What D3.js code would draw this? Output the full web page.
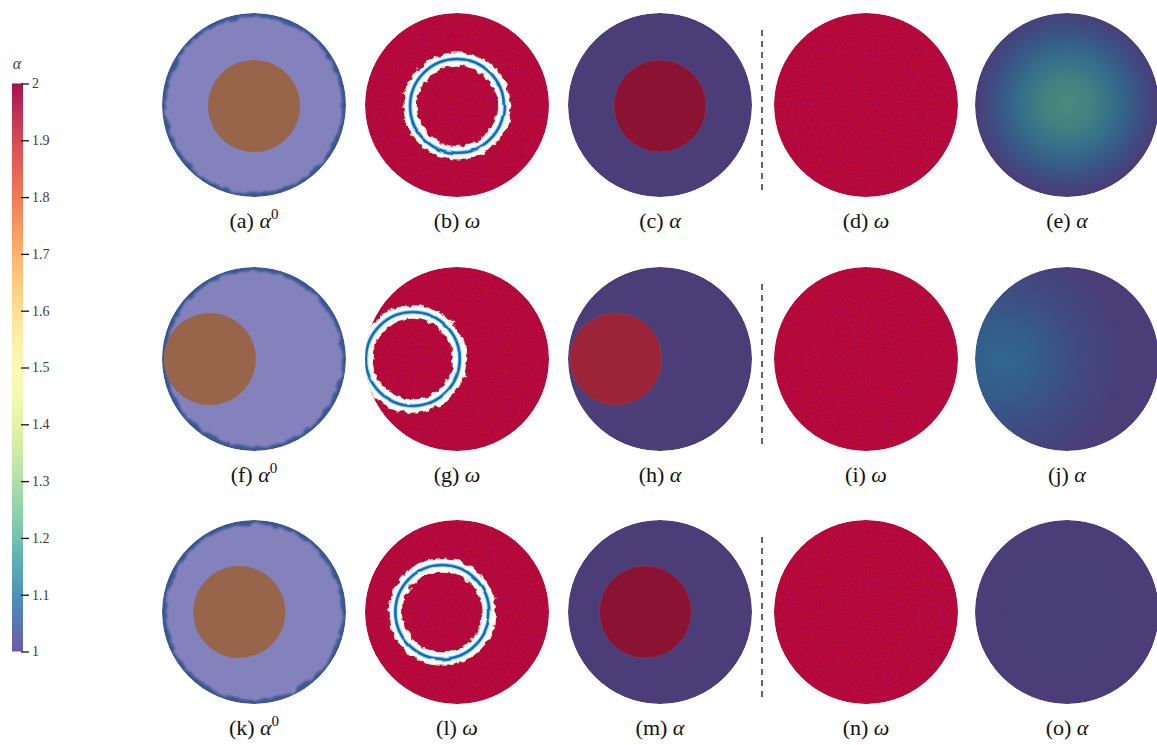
<!DOCTYPE html>
<html>
<head>
<meta charset="utf-8">
<script src="https://cdn.jsdelivr.net/npm/d3@7"></script>
<style>
  html, body { margin: 0; padding: 0; background: #fff; }
  svg { display: block; }
</style>
</head>
<body>
<svg id="fig" width="1157" height="745"></svg>
<script>
// ---------------- data ----------------
// panel letters, one row per test case
const panelLetters = [
  ["a", "b", "c", "d", "e"],
  ["f", "g", "h", "i", "j"],
  ["k", "l", "m", "n", "o"]
];
// field shown in each column
const panelFields = ["alpha0", "omega", "alpha", "omega", "alphaSmooth"];
const fieldSymbols = { alpha0: "α", omega: "ω", alpha: "α", alphaSmooth: "α" };

// inclusion geometry per row, in unit-disk coordinates
const inclusionX = [0.0, -0.48, -0.16];
const inclusionY = [-0.01, 0.0, 0.0];
const inclusionRadius = 0.5;
// radius of the interface ring in the phase field ω
const ringRadius = 0.51;

// α values
const alphaBackground = 1.0;
const alphaInclusion = [2.0, 1.94, 2.0];

// smooth reconstructions (last column): radial α profiles per row
const smoothCenterX = [0.0, -0.7, -0.05];
const smoothCenterY = [0.02, 0.0, 0.0];
const smoothRadius = [1.0, 1.35, 0.7];
const smoothOffsets = [
  [0, 0.25, 0.5, 0.75, 1],
  [0, 0.3, 0.55, 0.8, 1],
  [0, 0.8, 1]
];
const smoothValues = [
  [1.22, 1.19, 1.13, 1.06, 1.0],
  [1.11, 1.075, 1.04, 1.015, 1.0],
  [1.008, 1.006, 1.0]
];

// colour bar ticks
const colorbarTicks = [1, 1.1, 1.2, 1.3, 1.4, 1.5, 1.6, 1.7, 1.8, 1.9, 2];

// ---------------- layout ----------------
const colCenters = [254, 457, 660, 866, 1067];
const rowCenters = [105, 359, 612];
const diskR = 92;
const labelOffset = 123;
const dividerX = 762;

const serif = "'Liberation Serif', 'DejaVu Serif', serif";

// shaded colour map used inside the disks
const diskColor = d3.scaleLinear()
  .domain([1.0, 1.1, 1.2, 1.3, 1.5, 1.7, 1.9, 2.0])
  .range(["#4a3d78", "#2e6590", "#44857e", "#649e80", "#c4c189", "#c9864f", "#a6303e", "#8a1232"])
  .interpolate(d3.interpolateRgb)
  .clamp(true);

const alpha0Colors = { background: "#8482bd", inclusion: "#98644a", rim: "#3a5792" };
const omegaRed = "#bb0b39";

const svg = d3.select("#fig");
const defs = svg.append("defs");

// fine grain on the phase field
const grain = defs.append("filter").attr("id", "grain")
  .attr("x", 0).attr("y", 0).attr("width", 1).attr("height", 1);
grain.append("feTurbulence").attr("type", "fractalNoise")
  .attr("baseFrequency", 0.85).attr("numOctaves", 2).attr("seed", 4).attr("result", "n");
grain.append("feColorMatrix").attr("in", "n").attr("type", "matrix")
  .attr("values", "0 0 0 0 0.3  0 0 0 0 0  0 0 0 0 0.08  2.4 0 0 0 -1.05")
  .attr("result", "m");
grain.append("feComposite").attr("in", "m").attr("in2", "SourceGraphic").attr("operator", "in");

// irregular edges
function roughFilter(id, freq, scale, seed, blur) {
  const f = defs.append("filter").attr("id", id)
    .attr("x", "-15%").attr("y", "-15%").attr("width", "130%").attr("height", "130%");
  f.append("feTurbulence").attr("type", "fractalNoise")
    .attr("baseFrequency", freq).attr("numOctaves", 2).attr("seed", seed).attr("result", "t");
  f.append("feDisplacementMap").attr("in", "SourceGraphic").attr("in2", "t")
    .attr("scale", scale).attr("xChannelSelector", "R").attr("yChannelSelector", "G")
    .attr("result", "d");
  if (blur) f.append("feGaussianBlur").attr("in", "d").attr("stdDeviation", blur);
}
roughFilter("rim", 0.1, 7, 11, 0.9);
roughFilter("jag", 0.16, 7, 5, 0.35);
roughFilter("wobble", 0.05, 2.5, 9, 0.25);

// ---------------- colour bar ----------------
const cbTop = 83.5, cbBottom = 651.5, cbX = 12, cbW = 11;
const cbScale = d3.scaleLinear().domain([1, 2]).range([cbBottom, cbTop]);
const cbGrad = defs.append("linearGradient").attr("id", "cbgrad")
  .attr("x1", 0).attr("y1", 0).attr("x2", 0).attr("y2", 1);
d3.range(0, 1.0001, 0.05).forEach(t => {
  cbGrad.append("stop").attr("offset", t).attr("stop-color", d3.interpolateSpectral(t));
});
svg.append("rect").attr("x", cbX).attr("y", cbScale(2)).attr("width", cbW)
  .attr("height", cbScale(1) - cbScale(2)).attr("fill", "url(#cbgrad)").attr("opacity", 0.93);
const cbAxis = svg.append("g").attr("transform", `translate(${cbX + cbW - 2},0)`)
  .call(d3.axisRight(cbScale).tickValues(colorbarTicks).tickSize(8).tickPadding(3)
    .tickFormat(d => String(d)));
cbAxis.select(".domain").remove();
cbAxis.selectAll(".tick line").attr("stroke", "#111").attr("stroke-width", 1.3);
cbAxis.selectAll(".tick text").attr("fill", "#3a3a3a")
  .style("font-family", serif).style("font-size", "14px");
svg.append("text").attr("x", 17).attr("y", 69).attr("text-anchor", "middle")
  .style("font-family", serif).style("font-style", "italic").style("font-size", "16px")
  .attr("fill", "#444").text("α");

// ---------------- panels ----------------
panelLetters.forEach((letters, row) => {
  const cy = rowCenters[row];
  letters.forEach((letter, col) => {
    const cx = colCenters[col];
    const field = panelFields[col];
    const x = d3.scaleLinear().domain([-1, 1]).range([cx - diskR, cx + diskR]);
    const y = d3.scaleLinear().domain([-1, 1]).range([cy + diskR, cy - diskR]);
    const r = d3.scaleLinear().domain([0, 1]).range([0, diskR]);

    const clipId = `clip-${letter}`;
    defs.append("clipPath").attr("id", clipId)
      .append("circle").attr("cx", x(0)).attr("cy", y(0)).attr("r", r(1));

    const g = svg.append("g").attr("clip-path", `url(#${clipId})`);

    if (field === "alpha0") {
      g.append("circle").attr("cx", x(0)).attr("cy", y(0)).attr("r", r(1))
        .attr("fill", alpha0Colors.rim);
      g.append("circle").attr("cx", x(0)).attr("cy", y(0)).attr("r", r(1) - 4)
        .attr("fill", alpha0Colors.background).attr("filter", "url(#rim)");
      g.append("circle").attr("cx", x(inclusionX[row])).attr("cy", y(inclusionY[row]))
        .attr("r", r(inclusionRadius)).attr("fill", alpha0Colors.inclusion);
    } else if (field === "omega") {
      g.append("circle").attr("cx", x(0)).attr("cy", y(0)).attr("r", r(1)).attr("fill", omegaRed);
      g.append("circle").attr("cx", x(0)).attr("cy", y(0)).attr("r", r(1))
        .attr("fill", "#000").attr("filter", "url(#grain)").attr("opacity", 0.75);
      if (col === 1) {
        const rc = r(ringRadius);
        const band = g.append("g").attr("filter", "url(#jag)");
        [["#f1e2c0", 13.5], ["#fdfefe", 11.5]].forEach(([c, w]) => {
          band.append("circle").attr("cx", x(inclusionX[row])).attr("cy", y(inclusionY[row]))
            .attr("r", rc).attr("fill", "none").attr("stroke", c).attr("stroke-width", w);
        });
        const line = g.append("g").attr("filter", "url(#wobble)");
        [["#c6e7f6", 5], ["#3f9ad6", 3], ["#0c6ab8", 1.8]].forEach(([c, w]) => {
          line.append("circle").attr("cx", x(inclusionX[row])).attr("cy", y(inclusionY[row]))
            .attr("r", rc).attr("fill", "none").attr("stroke", c).attr("stroke-width", w);
        });
      }
    } else if (field === "alpha") {
      g.append("circle").attr("cx", x(0)).attr("cy", y(0)).attr("r", r(1))
        .attr("fill", diskColor(alphaBackground));
      g.append("circle").attr("cx", x(inclusionX[row])).attr("cy", y(inclusionY[row]))
        .attr("r", r(inclusionRadius)).attr("fill", diskColor(alphaInclusion[row]))
        .attr("stroke", "#9a5a70").attr("stroke-width", 0.6).attr("stroke-opacity", 0.5);
    } else {
      const gid = `smooth-${letter}`;
      const grad = defs.append("radialGradient").attr("id", gid)
        .attr("gradientUnits", "userSpaceOnUse")
        .attr("cx", x(smoothCenterX[row])).attr("cy", y(smoothCenterY[row]))
        .attr("r", r(smoothRadius[row]));
      smoothOffsets[row].forEach((o, i) => {
        grad.append("stop").attr("offset", o).attr("stop-color", diskColor(smoothValues[row][i]));
      });
      g.append("circle").attr("cx", x(0)).attr("cy", y(0)).attr("r", r(1))
        .attr("fill", `url(#${gid})`);
    }

    // caption
    const t = svg.append("text").attr("x", cx).attr("y", cy + labelOffset)
      .attr("text-anchor", "middle").attr("fill", "#111")
      .style("font-family", serif).style("font-size", "22px");
    t.append("tspan").text(`(${letter}) `);
    t.append("tspan").style("font-style", "italic").text(fieldSymbols[field]);
    if (field === "alpha0") {
      t.append("tspan").attr("dy", -9).style("font-size", "15px").text("0");
    }
  });

  // dashed divider between the two groups of panels
  svg.append("line").attr("x1", dividerX).attr("x2", dividerX)
    .attr("y1", cy - 75).attr("y2", cy + 90)
    .attr("stroke", "#111").attr("stroke-width", 1.3).attr("stroke-dasharray", "6,5");
});
</script>
</body>
</html>
